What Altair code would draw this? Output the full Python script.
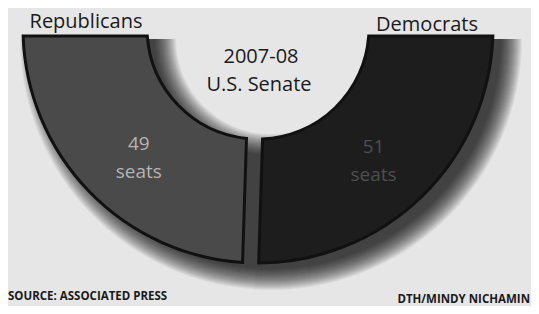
import math
import altair as alt
import pandas as pd

# ---- data ----
parties = ["Democrats", "Republicans"]
seats = [51, 49]
titles = ["2007-08", "U.S. Senate"]
source_text = "SOURCE: ASSOCIATED PRESS"
credit_text = "DTH/MINDY NICHAMIN"

df = pd.DataFrame({"party": parties, "seats": seats})

# ---- geometry / style ----
CX, CY = 250, 20
R_OUT, R_IN = 235, 111
BG = "#e6e6e6"
DEM = "#1d1d1d"
REP = "#4a4a4a"
FONT = "Open Sans"

theta = alt.Theta("seats:Q", stack=True,
                  scale=alt.Scale(range=[math.pi / 2, 3 * math.pi / 2]))
order = alt.Order("party:N", sort="ascending")
center = dict(x=alt.value(CX), y=alt.value(CY))

base = alt.Chart(df)

layers = []
# blurred drop shadow (many faint layers)
for k in range(0, 22):
    layers.append(
        base.mark_arc(outerRadius=R_OUT + k - 5, innerRadius=max(R_IN - k + 5, 1),
                      color="#000", opacity=0.05)
        .encode(theta=theta, order=order,
                x=alt.value(CX + 13), y=alt.value(CY + 11))
    )

arcs = base.mark_arc(outerRadius=R_OUT, innerRadius=R_IN, padAngle=0.062,
                     stroke="#111", strokeWidth=3, strokeJoin="miter").encode(
    theta=theta, order=order,
    color=alt.Color("party:N", scale=alt.Scale(domain=parties, range=[DEM, REP]),
                    legend=None),
    **center,
)
layers.append(arcs)

labels = base.transform_calculate(
    label="datum.seats + '\\n' + 'seats'"
).mark_text(radius=166, lineBreak="\n", lineHeight=28, fontSize=19,
            font=FONT, baseline="middle").encode(
    theta=theta, order=order,
    text="label:N",
    color=alt.condition(alt.datum.party == "Republicans",
                        alt.value("#b4b4b4"), alt.value("#4e4e4e")),
    **center,
)
layers.append(labels)


def note(txt, x, y, size, align="center", weight="normal"):
    return alt.Chart(pd.DataFrame({"t": [txt]})).mark_text(
        font=FONT, fontSize=size, align=align, baseline="alphabetic",
        fontWeight=weight, color="#1a1a1a"
    ).encode(text="t:N", x=alt.value(x), y=alt.value(y))


layers += [
    note(parties[1], 78, 20, 20),
    note(parties[0], 419, 23, 20),
    note(titles[0], 253, 55, 20),
    note(titles[1], 251, 83, 20),
    note(source_text, 0, 292, 11.5, align="left", weight="bold"),
    note(credit_text, 522, 295, 11.5, align="right", weight="bold"),
]

chart = alt.layer(*layers).properties(
    width=523, height=298, padding=0,
    autosize=alt.AutoSizeParams(type="none"),
    background=BG,
).configure_view(stroke=None)

chart.save("out.html", embed_options={"renderer": "svg", "actions": False})
